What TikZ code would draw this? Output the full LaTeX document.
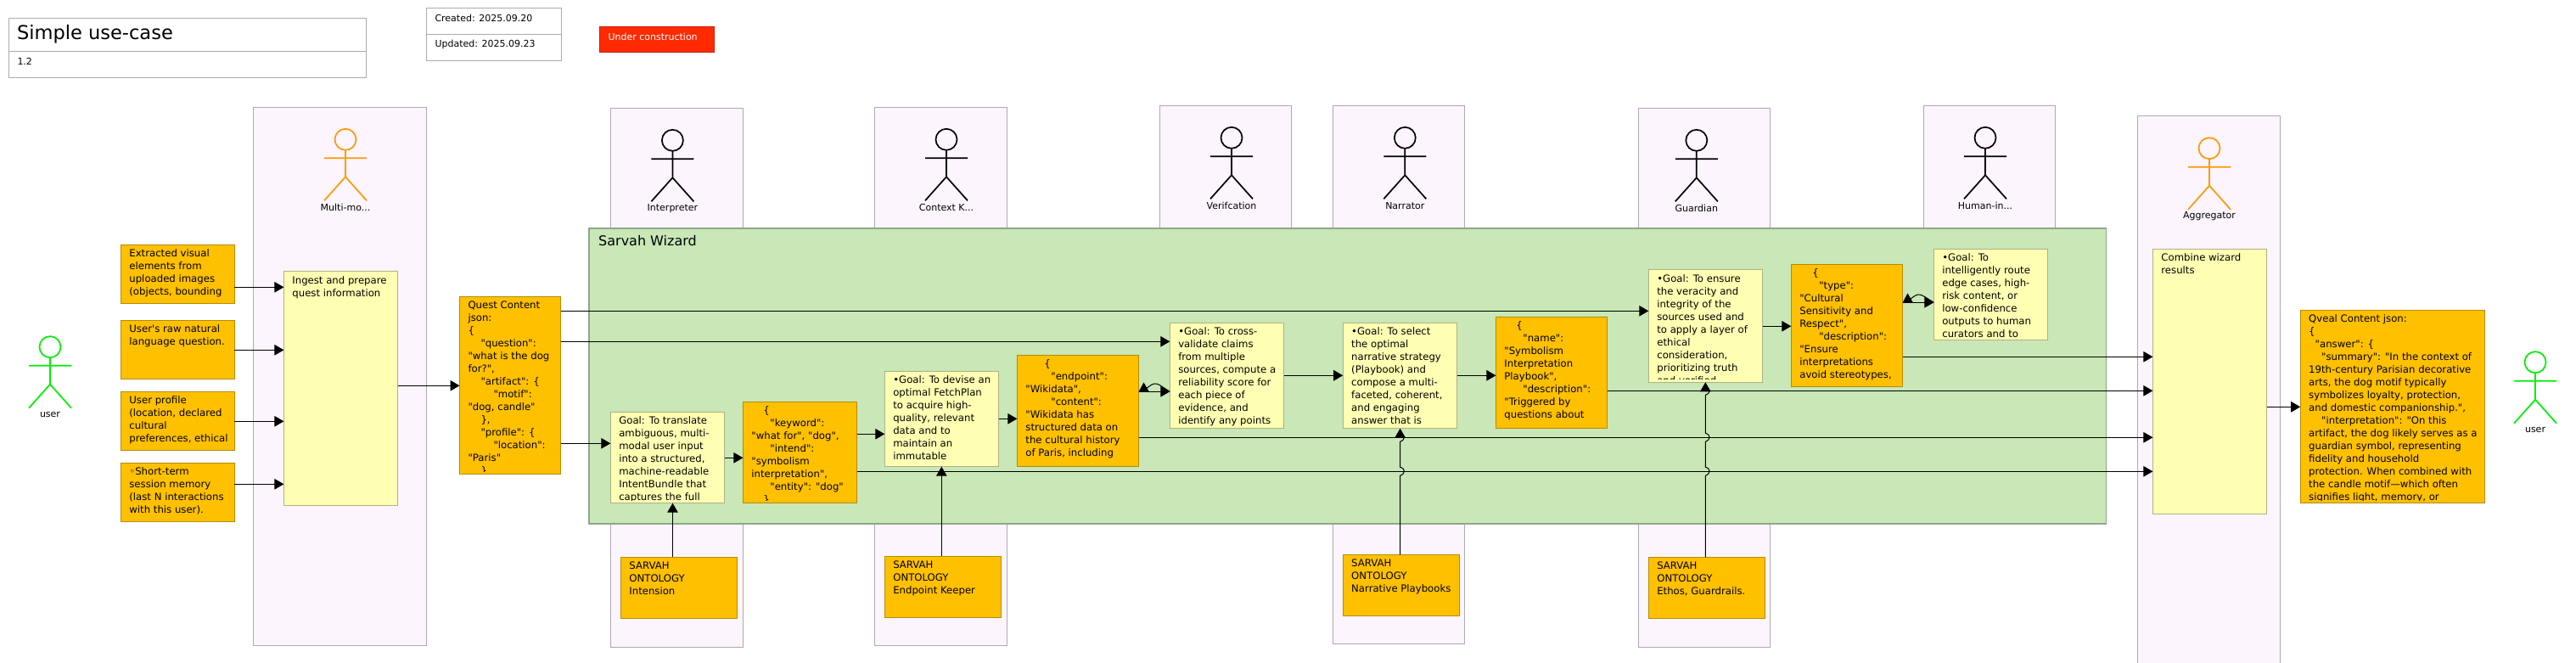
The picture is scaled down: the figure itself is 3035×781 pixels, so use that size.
\documentclass[tikz,border=0pt]{standalone}
\usepackage{fontspec}
\newfontfamily\tf{DejaVu Sans}
\usetikzlibrary{arrows.meta}
\definecolor{lanefill}{HTML}{FCF5FE}
\definecolor{laneline}{HTML}{AFA9B0}
\definecolor{greenfill}{HTML}{C9E7B7}
\definecolor{greenline}{HTML}{8FA68A}
\definecolor{orgfill}{HTML}{FFC000}
\definecolor{orgline}{HTML}{B58B00}
\definecolor{yelfill}{HTML}{FFFFB3}
\definecolor{yelline}{HTML}{B0B085}
\definecolor{actorange}{HTML}{FF9900}
\definecolor{actgreen}{HTML}{00EE00}
\definecolor{redfill}{HTML}{FF2A00}
\definecolor{redline}{HTML}{C42000}
\newcommand{\fs}[1]{\fontsize{#1}{15}\selectfont}
\newcommand{\ind}[1]{\hspace*{#1pt}}
\tikzset{
  plain/.style={inner sep=0pt,outer sep=0pt,line width=1pt},
  lanebox/.style={plain,draw=laneline,fill=lanefill},
  greenbox/.style={plain,draw=greenline,fill=greenfill,line width=1.2pt},
  orgbox/.style={plain,draw=orgline,fill=orgfill},
  yelbox/.style={plain,draw=yelline,fill=yelfill},
  whitebox/.style={plain,draw=laneline,fill=white},
  redbox/.style={plain,draw=redline,fill=redfill},
  arr/.style={line width=1pt,-{Triangle[length=11pt,width=12.5pt]}},
  txt/.style={inner sep=0pt,outer sep=0pt,align=left,anchor=north west,font=\tf\fs{11.7}},
  lbl/.style={inner sep=0pt,outer sep=0pt,font=\tf\fs{11}}
}
% name, style, x1, y1, x2, y2
\newcommand{\bx}[6]{\node[#2,minimum width={(#5-(#3))*1pt},minimum height={(#6-(#4))*1pt}] (#1) at ({(#3+#5)/2},{(#4+#6)/2}) {};}
% name, style, x1, y1, x2, y2, text
\newcommand{\sticky}[7]{\bx{#1}{#2}{#3}{#4}{#5}{#6}
  \begin{scope}\clip (#3,#4) rectangle (#5,#6-3.5);
  \node[txt] (#1-t) at (#3+10,#4+5.5) {#7};
  \end{scope}}
% name, cx, top, colour, label
\newcommand{\actor}[5]{
  \node[draw=#4,line width=1.7pt,circle,inner sep=0pt,outer sep=0pt,minimum size=25pt] (#1) at (#2,#3+13) {};
  \draw[#4,line width=1.7pt] (#1.south) -- (#2,#3+57) (#2-25,#3+35) -- (#2+25,#3+35) (#2-25,#3+85) -- (#2,#3+57) -- (#2+25,#3+85);
  \node[lbl] (#1-l) at (#2,#3+93) {#5};}
\begin{document}
\begin{tikzpicture}[x=1pt,y=-1pt]
\useasboundingbox (0,0) rectangle (3035,781);
% header
\bx{tA}{whitebox}{10}{22}{431}{61}
\bx{tB}{whitebox}{10}{61}{431}{92}
\node[inner sep=0pt,anchor=west,font=\tf\fs{22.5}] (tAt) at (20,40.5) {Simple use-case};
\node[lbl,anchor=west] (tBt) at (20.5,72.5) {1.2};
\bx{dA}{whitebox}{502}{10}{661}{41}
\bx{dB}{whitebox}{502}{41}{661}{72}
\node[lbl,anchor=west] (dAt) at (512.5,21.5) {Created: 2025.09.20};
\node[lbl,anchor=west] (dBt) at (512.5,52.5) {Updated: 2025.09.23};
\bx{uc}{redbox}{706}{32}{841}{62}
\node[lbl,anchor=west,text=white] (uct) at (716.5,43.5) {Under construction};
% lanes
\bx{lM}{lanebox}{298.5}{127}{502}{760.5}
\bx{lI}{lanebox}{719}{128}{875.5}{762}
\bx{lC}{lanebox}{1030}{127}{1186.6}{760}
\bx{lV}{lanebox}{1366}{125}{1521.5}{400}
\bx{lN}{lanebox}{1570}{125}{1725.6}{758}
\bx{lG}{lanebox}{1930}{128}{2085.5}{762}
\bx{lH}{lanebox}{2266}{125}{2421}{400}
\bx{lA}{lanebox}{2518}{137}{2686.7}{782}
% green frame
\bx{wiz}{greenbox}{694}{269}{2481.7}{617}
\node[inner sep=0pt,anchor=west,font=\tf\fs{16}] (wizt) at (705,284) {Sarvah Wizard};
% actors
\actor{aU}{59}{395.7}{actgreen}{user}
\actor{aM}{407}{151.3}{actorange}{Multi-mo...}
\actor{aI}{792.4}{152.3}{black}{Interpreter}
\actor{aC}{1115}{151.3}{black}{Context K...}
\actor{aV}{1451}{149.3}{black}{Verifcation}
\actor{aN}{1655.3}{149.3}{black}{Narrator}
\actor{aG}{1998.8}{152.3}{black}{Guardian}
\actor{aH}{2339}{149.3}{black}{Human-in...}
\actor{aA}{2603}{161.7}{actorange}{Aggregator}
\actor{aR}{2987}{413.7}{actgreen}{user}
% inputs
\sticky{in1}{orgbox}{142.4}{288.3}{276.3}{357.7}{Extracted visual\\elements from\\uploaded images\\(objects, bounding}
\sticky{in2}{orgbox}{142.4}{377.3}{276.3}{446.7}{User's raw natural\\language question.}
\sticky{in3}{orgbox}{142.4}{461.3}{276.3}{530.7}{User profile\\(location, declared\\cultural\\preferences, ethical}
\sticky{in4}{orgbox}{142.4}{545.3}{276.3}{614.7}{◦Short-term\\session memory\\(last N interactions\\with this user).}
\sticky{ing}{yelbox}{334.4}{319.7}{468.7}{595.7}{Ingest and prepare\\quest information}
\sticky{qst}{orgbox}{541.5}{349.3}{660.7}{558.7}{Quest Content\\json:\\\{\\\ind{15}"question":\\"what is the dog\\for?",\\\ind{15}"artifact": \{\\\ind{30}"motif":\\"dog, candle"\\\ind{15}\},\\\ind{15}"profile": \{\\\ind{30}"location":\\"Paris"\\\ind{15}\}}
% wizard stickies
\sticky{g1}{yelbox}{719.3}{485.3}{853.6}{592.7}{Goal: To translate\\ambiguous, multi-\\modal user input\\into a structured,\\machine-readable\\IntentBundle that\\captures the full}
\sticky{kw}{orgbox}{875.4}{473.3}{1009.6}{592.7}{\ind{14}\{\\\ind{22}"keyword":\\"what for", "dog",\\\ind{22}"intend":\\"symbolism\\interpretation",\\\ind{22}"entity": "dog"\\\ind{14}\}}
\sticky{g2}{yelbox}{1042.3}{437.3}{1176.6}{549.7}{•Goal: To devise an\\optimal FetchPlan\\to acquire high-\\quality, relevant\\data and to\\maintain an\\immutable}
\sticky{ep}{orgbox}{1198.4}{418.3}{1341.6}{549.7}{\ind{22}\{\\\ind{30}"endpoint":\\"Wikidata",\\\ind{30}"content":\\"Wikidata has\\structured data on\\the cultural history\\of Paris, including}
\sticky{g3}{yelbox}{1378.3}{380.3}{1512.6}{504.7}{•Goal: To cross-\\validate claims\\from multiple\\sources, compute a\\reliability score for\\each piece of\\evidence, and\\identify any points}
\sticky{g4}{yelbox}{1582.2}{380.3}{1716.5}{504.7}{•Goal: To select\\the optimal\\narrative strategy\\(Playbook) and\\compose a multi-\\faceted, coherent,\\and engaging\\answer that is}
\sticky{pb}{orgbox}{1762.4}{373.3}{1893.7}{504.7}{\ind{14}\{\\\ind{22}"name":\\"Symbolism\\Interpretation\\Playbook",\\\ind{22}"description":\\"Triggered by\\questions about}
\sticky{g5}{yelbox}{1942.3}{317.7}{2076.6}{450.3}{•Goal: To ensure\\the veracity and\\integrity of the\\sources used and\\to apply a layer of\\ethical\\consideration,\\prioritizing truth\\and verified}
\sticky{cu}{orgbox}{2110.3}{311.3}{2241.7}{455.7}{\ind{15}\{\\\ind{23}"type":\\"Cultural\\Sensitivity and\\Respect",\\\ind{23}"description":\\"Ensure\\interpretations\\avoid stereotypes,}
\sticky{g6}{yelbox}{2278.3}{293.3}{2412.7}{400.7}{•Goal: To\\intelligently route\\edge cases, high-\\risk content, or\\low-confidence\\outputs to human\\curators and to}
% ontology
\sticky{oI}{orgbox}{731.4}{656.3}{868.6}{728.7}{SARVAH\\ONTOLOGY\\Intension}
\sticky{oE}{orgbox}{1042.3}{655.3}{1179.7}{727.7}{SARVAH\\ONTOLOGY\\Endpoint Keeper}
\sticky{oN}{orgbox}{1582.2}{653.3}{1719.6}{725.7}{SARVAH\\ONTOLOGY\\Narrative Playbooks}
\sticky{oG}{orgbox}{1942.3}{656.3}{2079.6}{728.7}{SARVAH\\ONTOLOGY\\Ethos, Guardrails.}
% aggregator and answer
\sticky{cb}{yelbox}{2536.4}{293.3}{2670.6}{605.7}{Combine wizard\\results}
\sticky{qv}{orgbox}{2710.2}{365.3}{2927}{592.7}{Qveal Content json:\\\{\\\ind{7.5}"answer": \{\\\ind{15}"summary": "In the context of\\19th-century Parisian decorative\\arts, the dog motif typically\\symbolizes loyalty, protection,\\and domestic companionship.",\\\ind{15}"interpretation": "On this\\artifact, the dog likely serves as a\\guardian symbol, representing\\fidelity and household\\protection. When combined with\\the candle motif—which often\\signifies light, memory, or}
% levels
\coordinate (yIn1) at (0,338.3);
\coordinate (yIn2) at (0,412.3);
\coordinate (yIn3) at (0,496.3);
\coordinate (yIn4) at (0,570.3);
\coordinate (yQ) at (0,454.3);
\coordinate (yG5) at (0,366.3);
\coordinate (yG3) at (0,402.3);
\coordinate (yG1) at (0,522.3);
\coordinate (yKw) at (0,539.3);
\coordinate (yG2) at (0,511.3);
\coordinate (yEp) at (0,493.3);
\coordinate (yLoopA) at (0,461.3);
\coordinate (yG4) at (0,442.3);
\coordinate (yCu) at (0,384.3);
\coordinate (yLoopB) at (0,356.3);
\coordinate (yA1) at (0,420.3);
\coordinate (yA2) at (0,460.3);
\coordinate (yA3) at (0,515.3);
\coordinate (yA4) at (0,555.3);
\coordinate (yOut) at (0,479.3);
\coordinate (xOI) at (792.5,0);
\coordinate (xOE) at (1109.3,0);
\coordinate (xON) at (1649.6,0);
\coordinate (xOG) at (2009.3,0);
% connectors
\draw[arr] (in1.east |- yIn1) -- (ing.west |- yIn1);
\draw[arr] (in2.east |- yIn2) -- (ing.west |- yIn2);
\draw[arr] (in3.east |- yIn3) -- (ing.west |- yIn3);
\draw[arr] (in4.east |- yIn4) -- (ing.west |- yIn4);
\draw[arr] (ing.east |- yQ) -- (qst.west |- yQ);
\draw[arr] (qst.east |- yG5) -- (g5.west |- yG5);
\draw[arr] (qst.east |- yG3) -- (g3.west |- yG3);
\draw[arr] (qst.east |- yG1) -- (g1.west |- yG1);
\draw[arr] (g1.east |- yKw) -- (kw.west |- yKw);
\draw[arr] (kw.east |- yG2) -- (g2.west |- yG2);
\draw[arr] (g2.east |- yEp) -- (ep.west |- yEp);
\draw[arr] (ep.east |- yLoopA) -- (g3.west |- yLoopA);
\draw[line width=1pt] (g3.west |- yLoopA) .. controls (1368,455) and (1364,451) .. (1360,452) .. controls (1357,452.5) and (1354,455) .. (1350,458);
\fill (ep.east |- yLoopA) -- (1347.5,450.5) -- (1353.8,461.3) -- cycle;
\draw[arr] (g3.east |- yG4) -- (g4.west |- yG4);
\draw[arr] (g4.east |- yG4) -- (pb.west |- yG4);
\draw[arr] (g5.east |- yCu) -- (cu.west |- yCu);
\draw[arr] (cu.east |- yLoopB) -- (g6.west |- yLoopB);
\draw[line width=1pt] (g6.west |- yLoopB) .. controls (2268,350) and (2264,346.5) .. (2260,347) .. controls (2257,347.5) and (2254,349.5) .. (2250,353);
\fill (cu.east |- yLoopB) -- (2247.5,345.5) -- (2253.8,356.3) -- cycle;
\draw[arr] (cu.east |- yA1) -- (cb.west |- yA1);
\draw[arr] (pb.east |- yA2) -- (cb.west |- yA2);
\draw[arr] (ep.east |- yA3) -- (cb.west |- yA3);
\draw[arr] (kw.east |- yA4) -- (cb.west |- yA4);
\draw[arr] (cb.east |- yOut) -- (qv.west |- yOut);
\draw[arr] (oI.north -| xOI) -- (g1.south -| xOI);
\draw[arr] (oE.north -| xOE) -- (g2.south -| xOE);
\draw[arr] (oN.north -| xON) -- (1649.6,560.3) .. controls (1656,558) and (1656,552) .. (1649.6,550.3) -- (1649.6,520.3) .. controls (1656,518) and (1656,512) .. (1649.6,510.3) -- (g4.south -| xON);
\draw[arr] (oG.north -| xOG) -- (2009.3,560.3) .. controls (2015.7,558) and (2015.7,552) .. (2009.3,550.3) -- (2009.3,520.3) .. controls (2015.7,518) and (2015.7,512) .. (2009.3,510.3) -- (2009.3,465.3) .. controls (2015.7,463) and (2015.7,458) .. (2009.3,455.3) -- (g5.south -| xOG);
\end{tikzpicture}
\end{document}
